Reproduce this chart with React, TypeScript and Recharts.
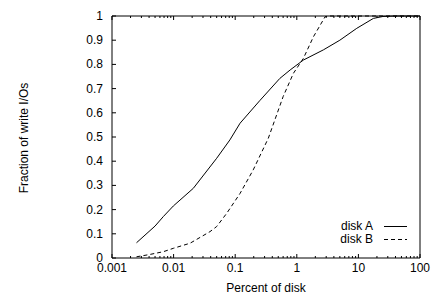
import { LineChart, Line, XAxis, YAxis, Legend } from "recharts";

const diskAPct = [0.0025, 0.005, 0.0068, 0.0099, 0.0209, 0.05, 0.082, 0.12, 0.25, 0.53, 0.78, 1.28, 2.7, 5, 9.4, 17.5, 25, 40, 100];
const diskAFrac = [0.063, 0.132, 0.171, 0.215, 0.288, 0.412, 0.488, 0.557, 0.65, 0.742, 0.777, 0.818, 0.86, 0.9, 0.949, 0.99, 0.998, 1, 1];

const diskBPct = [0.0025, 0.004, 0.0068, 0.0099, 0.0185, 0.039, 0.05, 0.073, 0.12, 0.196, 0.345, 0.6, 0.88, 1.28, 1.86, 2.88, 3.3, 100];
const diskBFrac = [0.005, 0.014, 0.026, 0.04, 0.061, 0.109, 0.13, 0.185, 0.267, 0.364, 0.495, 0.667, 0.763, 0.825, 0.914, 0.997, 1, 1];

const xMajor = [0.001, 0.01, 0.1, 1, 10, 100];
const xTicks = [
  0.001, 0.002, 0.003, 0.004, 0.005, 0.006, 0.007, 0.008, 0.009,
  0.01, 0.02, 0.03, 0.04, 0.05, 0.06, 0.07, 0.08, 0.09,
  0.1, 0.2, 0.3, 0.4, 0.5, 0.6, 0.7, 0.8, 0.9,
  1, 2, 3, 4, 5, 6, 7, 8, 9,
  10, 20, 30, 40, 50, 60, 70, 80, 90,
  100,
];
const yTicks = [0, 0.1, 0.2, 0.3, 0.4, 0.5, 0.6, 0.7, 0.8, 0.9, 1];

const series = [
  { name: "disk A", dash: undefined as string | undefined, pct: diskAPct, frac: diskAFrac },
  { name: "disk B", dash: "4 3" as string | undefined, pct: diskBPct, frac: diskBFrac },
];

const FONT = "'Liberation Sans', Arial, Helvetica, sans-serif";

const isMajor = (v: number) => xMajor.some((m) => Math.abs(m - v) < m * 1e-6);

const BottomTick = (props: any) => {
  const { x, y, payload } = props;
  const major = isMajor(payload.value);
  return (
    <g>
      <line x1={x} x2={x} y1={y} y2={y - (major ? 4 : 2)} stroke="#000" />
      {major && (
        <text x={x} y={y + 14} textAnchor="middle" fontSize={12} fontFamily={FONT} fill="#000">
          {String(payload.value)}
        </text>
      )}
    </g>
  );
};

const TopTick = (props: any) => {
  const { x, y, payload } = props;
  const major = isMajor(payload.value);
  return <line x1={x} x2={x} y1={y} y2={y + (major ? 4 : 2)} stroke="#000" />;
};

const LeftTick = (props: any) => {
  const { x, y, payload } = props;
  return (
    <g>
      <line x1={x} x2={x + 4} y1={y} y2={y} stroke="#000" />
      <text x={x - 9} y={y + 4} textAnchor="end" fontSize={12} fontFamily={FONT} fill="#000">
        {String(payload.value)}
      </text>
    </g>
  );
};

const RightTick = (props: any) => {
  const { x, y } = props;
  return <line x1={x} x2={x - 4} y1={y} y2={y} stroke="#000" />;
};

const YTitle = () => (
  <text
    x={24}
    y={138}
    transform="rotate(-90 24 138)"
    textAnchor="middle"
    dominantBaseline="central"
    fontSize={12}
    fontFamily={FONT}
    fill="#000"
  >
    Fraction of write I/Os
  </text>
);

const XTitle = () => (
  <text x={266} y={292} textAnchor="middle" fontSize={12} fontFamily={FONT} fill="#000">
    Percent of disk
  </text>
);

const LegendBox = () => (
  <div style={{ fontFamily: FONT, fontSize: 12, color: "#000" }}>
    {series.map((s) => (
      <div key={s.name} style={{ display: "flex", alignItems: "center", height: 13 }}>
        <span style={{ width: 50, textAlign: "right", lineHeight: "13px" }}>{s.name}</span>
        <svg width={34} height={13} style={{ display: "block" }}>
          <line x1={11} x2={34} y1={6.5} y2={6.5} stroke="#000" strokeDasharray={s.dash} />
        </svg>
      </div>
    ))}
  </div>
);

export default function App() {
  return (
    <div style={{ position: "fixed", left: 0, top: 0, width: 433, height: 295, background: "#fff" }}>
      <LineChart width={433} height={295} margin={{ top: 8, right: 0, bottom: 7, left: 72 }}>
        <XAxis
          xAxisId="bottom"
          dataKey="x"
          type="number"
          scale="log"
          domain={[0.001, 100]}
          allowDataOverflow
          ticks={xTicks}
          interval={0}
          height={30}
          tickSize={0}
          tickMargin={0}
          tickLine={false}
          axisLine={{ stroke: "#000" }}
          tick={<BottomTick />}
          label={<XTitle />}
        />
        <XAxis
          xAxisId="top"
          orientation="top"
          dataKey="x"
          type="number"
          scale="log"
          domain={[0.001, 100]}
          allowDataOverflow
          ticks={xTicks}
          interval={0}
          height={8}
          tickSize={0}
          tickMargin={0}
          tickLine={false}
          axisLine={{ stroke: "#000" }}
          tick={<TopTick />}
        />
        <YAxis
          yAxisId="left"
          type="number"
          domain={[0, 1]}
          ticks={yTicks}
          interval={0}
          width={40}
          tickSize={0}
          tickMargin={0}
          tickLine={false}
          axisLine={{ stroke: "#000" }}
          tick={<LeftTick />}
          label={<YTitle />}
        />
        <YAxis
          yAxisId="right"
          orientation="right"
          type="number"
          domain={[0, 1]}
          ticks={yTicks}
          interval={0}
          width={13}
          tickSize={0}
          tickMargin={0}
          tickLine={false}
          axisLine={{ stroke: "#000" }}
          tick={<RightTick />}
        />
        {series.map((s) => (
          <Line
            key={s.name}
            name={s.name}
            xAxisId="bottom"
            yAxisId="left"
            data={s.pct.map((x, i) => ({ x, y: s.frac[i] }))}
            dataKey="y"
            type="linear"
            stroke="#000"
            strokeWidth={1}
            strokeDasharray={s.dash}
            dot={false}
            activeDot={false}
            isAnimationActive={false}
          />
        ))}
        <Legend
          layout="vertical"
          align="center"
          verticalAlign="middle"
          wrapperStyle={{ left: 323, top: 220, width: 90 }}
          content={() => <LegendBox />}
        />
      </LineChart>
    </div>
  );
}
